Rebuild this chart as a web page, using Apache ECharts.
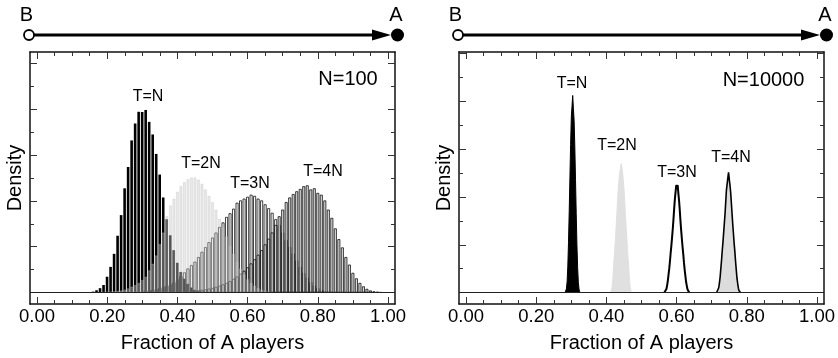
<!DOCTYPE html>
<html><head><meta charset="utf-8">
<script src="https://cdn.jsdelivr.net/npm/echarts@6/dist/echarts.min.js"></script>
<style>html,body{margin:0;padding:0;background:#fff}#c{width:838px;height:358px}</style>
</head><body><div id="c"></div>
<script>
// ---------- data ----------
const seriesNames = ['T=N', 'T=2N', 'T=3N', 'T=4N'];
const xTickLabels = [0, 0.2, 0.4, 0.6, 0.8, 1.0];
const xMinorTicks = [0.05, 0.1, 0.15, 0.25, 0.3, 0.35, 0.45, 0.5, 0.55, 0.65, 0.7, 0.75, 0.85, 0.9, 0.95];
const yMajorLeft = [0, 2, 4, 6, 8, 10];
const yMinorLeft = [1, 3, 5, 7, 9];
const yMajorRight = [0, 20, 40, 60, 80, 100];
const yMinorRight = [10, 30, 50, 70, 90];

// N = 100 : histogram densities, bin width 0.01, first bin centre given
const BIN_100 = 0.01;
const n100_TN_start = 0.15;
const n100_TN = [0.02,0.04,0.10,0.19,0.33,0.69,1.12,1.69,2.48,3.38,4.55,5.48,6.64,7.38,7.89,7.88,7.97,7.45,6.90,6.05,5.15,4.15,3.20,2.50,1.85,1.30,0.90,0.60,0.38,0.22,0.12,0.06,0.03,0.01];
const n100_T2N_start = 0.18;
const n100_T2N = [0.01,0.02,0.03,0.04,0.05,0.07,0.09,0.13,0.18,0.26,0.33,0.42,0.55,0.69,0.97,1.26,1.62,2.12,2.62,3.33,3.80,4.10,4.40,4.65,4.82,4.95,5.02,5.02,4.93,4.75,4.50,4.22,3.95,3.62,3.22,2.85,2.45,2.05,1.70,1.35,1.05,0.80,0.58,0.42,0.30,0.20,0.13,0.08,0.05,0.03,0.02];
const n100_T3N_start = 0.28;
const n100_T3N = [0.02,0.03,0.05,0.07,0.10,0.12,0.16,0.20,0.25,0.30,0.36,0.45,0.58,0.72,0.88,1.05,1.20,1.35,1.55,1.78,1.98,2.20,2.40,2.62,2.86,3.06,3.30,3.46,3.66,3.92,4.02,4.10,4.18,4.27,4.22,4.10,4.02,3.85,3.68,3.48,3.20,2.95,2.62,2.30,2.00,1.70,1.40,1.12,0.86,0.65,0.46,0.31,0.20,0.12,0.07,0.04,0.02,0.01];
const n100_T4N_start = 0.38;
const n100_T4N = [0.01,0.015,0.02,0.03,0.04,0.05,0.07,0.08,0.10,0.12,0.14,0.17,0.20,0.25,0.30,0.36,0.42,0.50,0.60,0.70,0.82,0.95,1.10,1.27,1.45,1.65,1.85,2.10,2.35,2.62,2.95,3.33,3.62,3.95,4.15,4.30,4.42,4.52,4.64,4.68,4.50,4.55,4.35,4.27,4.02,3.62,3.26,2.80,2.33,1.97,1.55,1.22,0.86,0.62,0.42,0.27,0.16,0.09,0.05,0.03,0.01];

// N = 10000 : densities sampled every 0.002
const BIN_10000 = 0.002;
const n10k_TN_start = 0.282;
const n10k_TN = [0,0.3,1.5,4.5,11,21,34,48,62,73.5,78,82.5,77,72,61,47,33,20,10.5,4.2,1.4,0.3,0];
const n10k_T2N_start = 0.412;
const n10k_T2N = [0,0.5,2,5,10,14.5,18.5,23,28.5,33.5,39,44,47.5,50,52,53.9,52.5,50.5,47,43.5,38.5,33,28,23.5,18,14,9.5,5,2,0.5,0];
const n10k_T3N_start = 0.565;
const n10k_T3N = [0,0.2,0.7,1.5,3,5,7.5,10,13,16.5,19.5,23,26.5,30.5,35,39,42,45,44,45,41.5,38.5,34.5,30,26,22.5,19,16,12.5,9.5,7,4.5,2.8,1.4,0.6,0.2,0];
const n10k_T4N_start = 0.714;
const n10k_T4N = [0,0.2,0.8,2,4,6.5,10,13.5,17.5,21,25,29,33,38,43,45.5,48,50.3,47.5,45,42,37.5,33,28.5,24.5,20.5,17,13,9.5,6,3.8,1.8,0.7,0.2,0];

// ---------- chart ----------
const FONT = '"Liberation Sans", Arial, Helvetica, sans-serif';
function pairs(start, step, vals) {
  return vals.map((v, i) => [Math.round((start + i * step) * 10000) / 10000, v]);
}

function xAxes(g) {
  const base = {type: 'value', gridIndex: g, min: -0.02, max: 1.02, splitLine: {show: false}};
  const tickStyle = {color: '#333', width: 1};
  return [
    Object.assign({}, base, {
      position: 'bottom',
      axisLine: {show: true, onZero: false, lineStyle: {color: '#111', width: 1.5}},
      axisTick: {show: true, inside: true, length: 7, customValues: xTickLabels, lineStyle: tickStyle},
      axisLabel: {show: true, customValues: xTickLabels, formatter: v => v.toFixed(2), margin: 3,
                  fontSize: 18.5, color: '#000', fontFamily: FONT},
      name: 'Fraction of A players', nameLocation: 'middle', nameGap: 29,
      nameTextStyle: {fontSize: 20, color: '#000', fontFamily: FONT}
    }),
    Object.assign({}, base, {
      position: 'bottom', axisLine: {show: false, onZero: false},
      axisTick: {show: true, inside: true, length: 4, customValues: xMinorTicks, lineStyle: tickStyle},
      axisLabel: {show: false}
    }),
    Object.assign({}, base, {
      position: 'top',
      axisLine: {show: true, onZero: false, lineStyle: {color: '#111', width: 1.5}},
      axisTick: {show: true, inside: true, length: 7, customValues: xTickLabels, lineStyle: tickStyle},
      axisLabel: {show: false}
    }),
    Object.assign({}, base, {
      position: 'top', axisLine: {show: false, onZero: false},
      axisTick: {show: true, inside: true, length: 4, customValues: xMinorTicks, lineStyle: tickStyle},
      axisLabel: {show: false}
    })
  ];
}
function yAxes(g, min, max, major, minor) {
  const base = {type: 'value', gridIndex: g, min: min, max: max, splitLine: {show: false}};
  const tickStyle = {color: '#333', width: 1};
  return [
    Object.assign({}, base, {
      position: 'left',
      axisLine: {show: true, onZero: false, lineStyle: {color: '#111', width: 1.5}},
      axisTick: {show: true, inside: true, length: 7, customValues: major, lineStyle: tickStyle},
      axisLabel: {show: false},
      name: 'Density', nameLocation: 'middle', nameGap: 5,
      nameTextStyle: {fontSize: 20, color: '#000', fontFamily: FONT}
    }),
    Object.assign({}, base, {
      position: 'left', axisLine: {show: false, onZero: false},
      axisTick: {show: true, inside: true, length: 4, customValues: minor, lineStyle: tickStyle},
      axisLabel: {show: false}
    }),
    Object.assign({}, base, {
      position: 'right',
      axisLine: {show: true, onZero: false, lineStyle: {color: '#111', width: 1.5}},
      axisTick: {show: true, inside: true, length: 7, customValues: major, lineStyle: tickStyle},
      axisLabel: {show: false}
    }),
    Object.assign({}, base, {
      position: 'right', axisLine: {show: false, onZero: false},
      axisTick: {show: true, inside: true, length: 4, customValues: minor, lineStyle: tickStyle},
      axisLabel: {show: false}
    })
  ];
}

const baseLine = {
  silent: true, symbol: ['none', 'none'], label: {show: false}, animation: false,
  lineStyle: {color: '#222', width: 1.2, type: 'solid'}, data: [{yAxis: 0}]
};

function bar(name, data, fill, border, bw, w, extra) {
  return Object.assign({
    type: 'bar', name: name, xAxisIndex: 0, yAxisIndex: 0, data: data,
    barWidth: w, barGap: '-100%', silent: true, emphasis: {disabled: true},
    itemStyle: {color: fill, borderColor: border, borderWidth: bw}
  }, extra || {});
}
function area(name, data, fill, stroke, lw, extra) {
  return Object.assign({
    type: 'line', name: name, xAxisIndex: 4, yAxisIndex: 4, data: data,
    symbol: 'none', silent: true, emphasis: {disabled: true},
    lineStyle: {color: stroke, width: lw}, areaStyle: {color: fill, opacity: 1}
  }, extra || {});
}

const series = [
  bar(seriesNames[2], pairs(n100_T3N_start, BIN_100, n100_T3N), '#ffffff', '#000', 0.75, 2.9, {markLine: baseLine}),
  bar(seriesNames[3], pairs(n100_T4N_start, BIN_100, n100_T4N), '#dedede', '#000', 0.75, 2.9),
  bar(seriesNames[0], pairs(n100_TN_start, BIN_100, n100_TN), '#000', '#000', 0, 2.6),
  bar(seriesNames[1], pairs(n100_T2N_start, BIN_100, n100_T2N), 'rgba(200,200,200,0.42)', 'rgba(190,190,190,0.45)', 0.7, 2.9),
  area(seriesNames[0], pairs(n10k_TN_start, BIN_10000, n10k_TN), '#000', '#000', 1, {markLine: baseLine}),
  area(seriesNames[1], pairs(n10k_T2N_start, BIN_10000, n10k_T2N), '#e0e0e0', '#e0e0e0', 1),
  area(seriesNames[2], pairs(n10k_T3N_start, BIN_10000, n10k_T3N), '#ffffff', '#000', 2),
  area(seriesNames[3], pairs(n10k_T4N_start, BIN_10000, n10k_T4N), '#dcdcdc', '#000', 1.6)
];

function txt(x, y, s, size) {
  return {type: 'text', x: x, y: y, silent: true,
          style: {text: s, fill: '#000', font: size + 'px ' + FONT, align: 'center', verticalAlign: 'middle'}};
}
function arrow(dx) {
  return [
    {type: 'line', silent: true, shape: {x1: 33 + dx, y1: 35, x2: 376 + dx, y2: 35}, style: {stroke: '#000', lineWidth: 3}},
    {type: 'polygon', silent: true, shape: {points: [[372 + dx, 29.5], [391 + dx, 35], [372 + dx, 40.5]]}, style: {fill: '#000'}},
    {type: 'circle', silent: true, shape: {cx: 29 + dx, cy: 35, r: 5}, style: {fill: '#fff', stroke: '#000', lineWidth: 1.8}},
    {type: 'circle', silent: true, shape: {cx: 397.5 + dx, cy: 35, r: 6.5}, style: {fill: '#000'}},
    txt(26.5 + dx, 15, 'B', 20),
    txt(396 + dx, 15, 'A', 20)
  ];
}

const graphic = [].concat(
  arrow(0), arrow(429),
  [
    txt(348, 79, 'N=100', 20),
    txt(763.5, 80, 'N=10000', 20),
    txt(148, 97, seriesNames[0], 16),
    txt(201, 164, seriesNames[1], 16),
    txt(250, 184, seriesNames[2], 16),
    txt(323, 172, seriesNames[3], 16),
    txt(572, 84, seriesNames[0], 16),
    txt(617, 146, seriesNames[1], 16),
    txt(677, 173, seriesNames[2], 16),
    txt(731, 158, seriesNames[3], 16)
  ]
);

const chart = echarts.init(document.getElementById('c'), null, {renderer: 'canvas'});
chart.setOption({
  animation: false,
  backgroundColor: '#fff',
  textStyle: {fontFamily: FONT},
  grid: [
    {left: 30, top: 52, width: 365, height: 257.5},
    {left: 459, top: 52, width: 366, height: 257}
  ],
  xAxis: xAxes(0).concat(xAxes(1)),
  yAxis: yAxes(0, -0.5, 10.5, yMajorLeft, yMinorLeft).concat(yAxes(1, -4.8, 100.7, yMajorRight, yMinorRight)),
  series: series,
  graphic: graphic
});
</script></body></html>
